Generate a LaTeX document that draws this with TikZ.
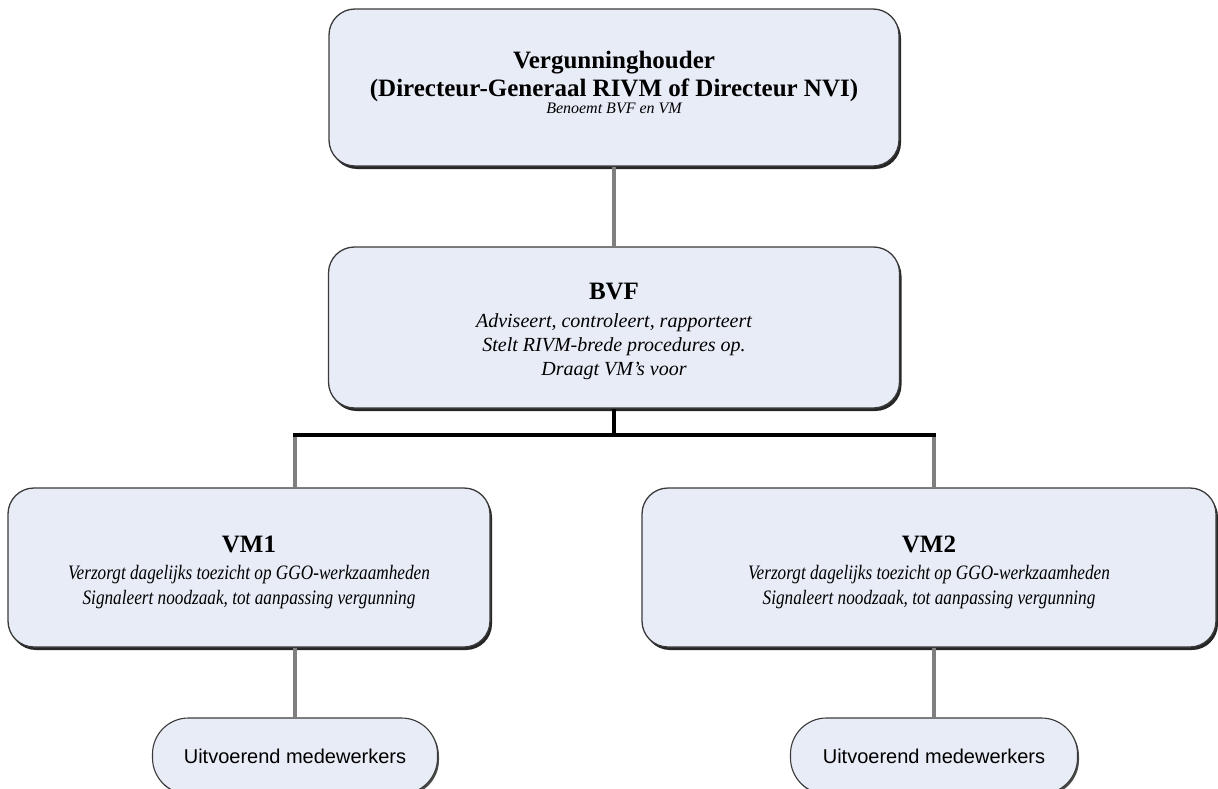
\documentclass[tikz,border=0pt]{standalone}
\usepackage{fontspec}
\setmainfont{Liberation Serif}
\newfontfamily\arialfont{Liberation Sans}
\newfontfamily\narrowserif[FakeStretch=0.84]{Liberation Serif}
\definecolor{boxfill}{HTML}{E8ECF6}
\definecolor{boxline}{HTML}{3A3A3A}
\definecolor{conn}{HTML}{7F7F7F}
\tikzset{
  orgbox/.style={draw=boxline, line width=1.3pt, fill=boxfill, rounded corners=26pt,
    inner sep=0pt,
    preaction={fill=black!85, transform canvas={shift={(2pt,-3pt)}}}},
  boxtext/.style={align=center, inner sep=0pt},
  workbox/.style={draw=boxline, line width=1.1pt, fill=boxfill, rounded corners=36pt,
    align=center, inner sep=0pt, font=\arialfont\fontsize{20}{24}\selectfont,
    preaction={fill=black!70, transform canvas={shift={(1.5pt,-2pt)}}}},
  connline/.style={draw=conn, line width=4pt},
  busline/.style={draw=black, line width=4pt}
}
\newcommand{\ttlfont}{\fontsize{25}{28}\selectfont\bfseries}
\newcommand{\dscfont}{\fontsize{20}{24}\selectfont\itshape}
\newcommand{\vmfont}{\narrowserif\fontsize{20.5}{25}\selectfont\itshape}
\begin{document}
\begin{tikzpicture}[x=1pt,y=-1pt]
\useasboundingbox (0,0) rectangle (1218,789);
% boxes
\node[orgbox, minimum width=570pt, minimum height=157pt] (top) at (614,87.5) {};
\node[boxtext, font=\fontsize{25}{28}\selectfont, yshift=5.5pt] (topT) at (top.center)
  {\ttlfont Vergunninghouder\\
   \ttlfont (Directeur-Generaal RIVM of Directeur NVI)\\[-11pt]
   \fontsize{16}{20}\selectfont\itshape Benoemt BVF en VM};
\node[orgbox, minimum width=571pt, minimum height=161pt] (bvf) at (614,327.5) {};
\node[boxtext, font=\fontsize{20}{24}\selectfont, yshift=-4pt] (bvfT) at (bvf.center)
  {\ttlfont BVF\\[4pt]
   \dscfont Adviseert, controleert, rapporteert\\
   \dscfont Stelt RIVM-brede procedures op.\\
   \dscfont Draagt VM's voor};
\node[orgbox, minimum width=482pt, minimum height=159pt] (vm1) at (249,567.5) {};
\node[boxtext, font=\fontsize{17.5}{25}\selectfont, yshift=-4.5pt] (vm1T) at (vm1.center)
  {\ttlfont VM1\\[2pt]
   \vmfont Verzorgt dagelijks toezicht op GGO-werkzaamheden\\
   \vmfont Signaleert noodzaak, tot aanpassing vergunning};
\node[orgbox, minimum width=574pt, minimum height=159pt] (vm2) at (929,567.5) {};
\node[boxtext, font=\fontsize{17.5}{25}\selectfont, yshift=-4.5pt] (vm2T) at (vm2.center)
  {\ttlfont VM2\\[2pt]
   \vmfont Verzorgt dagelijks toezicht op GGO-werkzaamheden\\
   \vmfont Signaleert noodzaak, tot aanpassing vergunning};
\node[workbox, minimum width=285pt, minimum height=76pt] (u1) at (295,756)
  {Uitvoerend medewerkers};
\node[workbox, minimum width=287pt, minimum height=76pt] (u2) at (934,756)
  {Uitvoerend medewerkers};
% connectors
\coordinate (bus) at (614,435);
\coordinate (bl) at (295,435);
\coordinate (br) at (934,435);
\path[connline] (top.south) -- (bvf.north);
\path[busline] (bvf.south) -- (bus);
\path[connline] (bl) -- (bl |- vm1.north);
\path[connline] (br) -- (br |- vm2.north);
\path[busline] ([xshift=-2pt]bl) -- ([xshift=2pt]br);
\path[connline] (bl |- vm1.south) -- (u1.north);
\path[connline] (br |- vm2.south) -- (u2.north);
\end{tikzpicture}
\end{document}
